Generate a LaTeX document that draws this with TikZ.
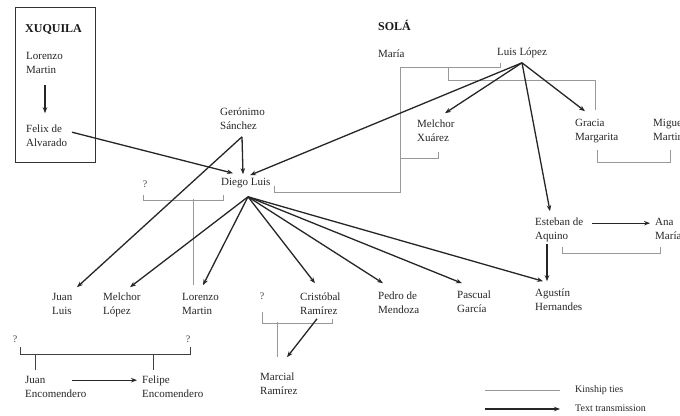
\documentclass[tikz,border=0pt]{standalone}
\usepackage{fontspec}
\setmainfont{Liberation Serif}
\usetikzlibrary{arrows.meta}
\newcommand\sx{\rule[-3.2pt]{0pt}{11.2pt}}
\begin{document}
\begin{tikzpicture}[x=1pt,y=-1pt,
  lbl/.style={anchor=west,inner sep=0pt,align=left,font=\fontsize{11}{14}\selectfont,text=black!85},
  qm/.style={inner sep=0pt,font=\fontsize{10}{12}\selectfont,text=black!75},
  ttl/.style={anchor=west,inner sep=0pt,font=\fontsize{12}{14}\selectfont\bfseries,text=black!90},
  arr/.style={line width=1.3pt,black!85,-{Stealth[length=6pt,width=4.5pt]}},
  kin/.style={line width=0.6pt,black!40},
  kind/.style={line width=0.9pt,black!75}]
\useasboundingbox[fill=white] (0,0) rectangle (680,415);

% XUQUILA group
\node[draw=black!80,line width=0.8pt,anchor=north west,minimum width=80pt,minimum height=155pt,inner sep=0pt] (box) at (15,7) {};
\node[ttl] (xuq) at (25,29) {XUQUILA};
\node[lbl] (lor) at (26,64) {Lorenzo\sx\\Martin\sx};
\node[lbl] (fel) at (26,137) {Felix de\sx\\Alvarado\sx};

% SOLA group
\node[ttl] (sola) at (378,25) {SOLÁ};
\node[lbl] (maria) at (378,55) {María\sx};
\node[lbl] (luis) at (497,53) {Luis López\sx};
\node[lbl] (melx) at (417,132) {Melchor\sx\\Xuárez\sx};
\node[lbl] (gracia) at (575,131) {Gracia\sx\\Margarita\sx};
\node[lbl] (miguel) at (653,131) {Miguel\sx\\Martin\sx};

% middle
\node[lbl] (ger) at (220,120) {Gerónimo\sx\\Sánchez\sx};
\node[lbl] (diego) at (221,183) {Diego Luis\sx};
\node[qm] (q1) at (145,185) {?\sx};
\node[lbl] (est) at (535,230) {Esteban de\sx\\Aquino\sx};
\node[lbl] (ana) at (655,230) {Ana\sx\\María\sx};

% bottom row
\node[lbl] (jl) at (52,305) {Juan\sx\\Luis\sx};
\node[lbl] (ml) at (103,305) {Melchor\sx\\López\sx};
\node[lbl] (lm) at (182,305) {Lorenzo\sx\\Martin\sx};
\node[qm] (q2) at (262,297) {?\sx};
\node[lbl] (cr) at (300,305) {Cristóbal\sx\\Ramírez\sx};
\node[lbl] (pe) at (378,304) {Pedro de\sx\\Mendoza\sx};
\node[lbl] (pa) at (457,303) {Pascual\sx\\García\sx};
\node[lbl] (ag) at (535,301) {Agustín\sx\\Hernandes\sx};
\node[lbl] (mr) at (260,385) {Marcial\sx\\Ramírez\sx};

% bottom left
\node[qm] (q3) at (15,340) {?\sx};
\node[qm] (q4) at (188,340) {?\sx};
\node[lbl] (je) at (25,388) {Juan\sx\\Encomendero\sx};
\node[lbl] (fe) at (142,388) {Felipe\sx\\Encomendero\sx};

% legend
\node[lbl,font=\fontsize{10}{12}\selectfont] (lk) at (575,390) {Kinship ties\sx};
\node[lbl,font=\fontsize{10}{12}\selectfont] (lt) at (575,409) {Text transmission\sx};
\draw[kin] ([xshift=-90pt]lk.west) -- ([xshift=-15pt]lk.west);
\draw[arr] ([xshift=-90pt]lt.west) -- ([xshift=-15pt]lt.west);

% kinship ties
\draw[kin] ([shift={(22,6)}]maria.south west) -- ([shift={(3,8)}]luis.south west) -- ++(0,-4);
\draw[kin] ([shift={(70,6)}]maria.south west) -- ++(0,13) -| ([shift={(20,-8)}]gracia.north west);
\draw[kin] ([shift={(22,6)}]maria.south west) |- ([shift={(53,3)}]diego.south west) -- ++(0,-6);
\draw[kin] ([shift={(21,7)}]melx.south west) -- ++(0,6) -- ++(-38,0);
\draw[kin] ([shift={(22,6)}]gracia.south west) -- ++(0,12) -| ([shift={(17,6)}]miguel.south west);
\draw[kin] ([shift={(27,4)}]est.south west) -- ++(0,6) -| ([shift={(5,4)}]ana.south west);
\draw[kin] ([shift={(-2,4)}]q1.south) -- ++(0,5) -| ([shift={(2,6)}]diego.south west);
\draw[kin] ([shift={(11,-7)}]lm.north west) -- ++(0,-86);
\draw[kin] ([shift={(0,9)}]q2.south) -- ++(0,11) -| ([shift={(32,1)}]cr.south west);
\draw[kin] ([shift={(17,-15)}]mr.north west) -- ++(0,-35);
\draw[kind] ([shift={(5,1)}]q3.south) -- ++(0,8) -| ([shift={(2,1)}]q4.south);
\draw[kind] ([shift={(10,-5)}]je.north west) -- ++(0,-15.6);
\draw[kind] ([shift={(11,-5)}]fe.north west) -- ++(0,-15.6);

% text transmission
\draw[arr] ([shift={(19,8)}]lor.south west) -- ([shift={(19,-11)}]fel.north west);
\draw[arr] ([shift={(46,8)}]fel.north west) -- ([shift={(12,-4)}]diego.north west);
\draw[arr] ([shift={(22,4)}]ger.south west) -- ([shift={(22,-3)}]diego.north west);
\draw[arr] ([shift={(22,4)}]ger.south west) -- ([shift={(25,-5)}]jl.north west);
\draw[arr] ([shift={(25,4)}]luis.south west) -- ([shift={(29,-2)}]diego.north west);
\draw[arr] ([shift={(25,4)}]luis.south west) -- ([shift={(28,-6)}]melx.north west);
\draw[arr] ([shift={(25,4)}]luis.south west) -- ([shift={(10,-7)}]gracia.north west);
\draw[arr] ([shift={(25,4)}]luis.south west) -- ([shift={(15,-6)}]est.north west);
\draw[arr] ([shift={(57,6)}]est.north west) -- ([shift={(-5,6)}]ana.north west);
\draw[arr] ([shift={(12,1)}]est.south west) -- ([shift={(12,-7)}]ag.north west);
\draw[arr] ([shift={(27,8)}]diego.south west) -- ([shift={(27,-5)}]ml.north west);
\draw[arr] ([shift={(27,8)}]diego.south west) -- ([shift={(21,-7)}]lm.north west);
\draw[arr] ([shift={(27,8)}]diego.south west) -- ([shift={(15,-9)}]cr.north west);
\draw[arr] ([shift={(27,8)}]diego.south west) -- ([shift={(5,-8)}]pe.north west);
\draw[arr] ([shift={(27,8)}]diego.south west) -- ([shift={(5,-7)}]pa.north west);
\draw[arr] ([shift={(27,8)}]diego.south west) -- ([shift={(8,-7)}]ag.north west);
\draw[arr] ([shift={(17,1)}]cr.south west) -- ([shift={(27,-15)}]mr.north west);
\draw[arr] ([shift={(47,5)}]je.north west) -- ([shift={(-5,5)}]fe.north west);
\end{tikzpicture}
\end{document}
